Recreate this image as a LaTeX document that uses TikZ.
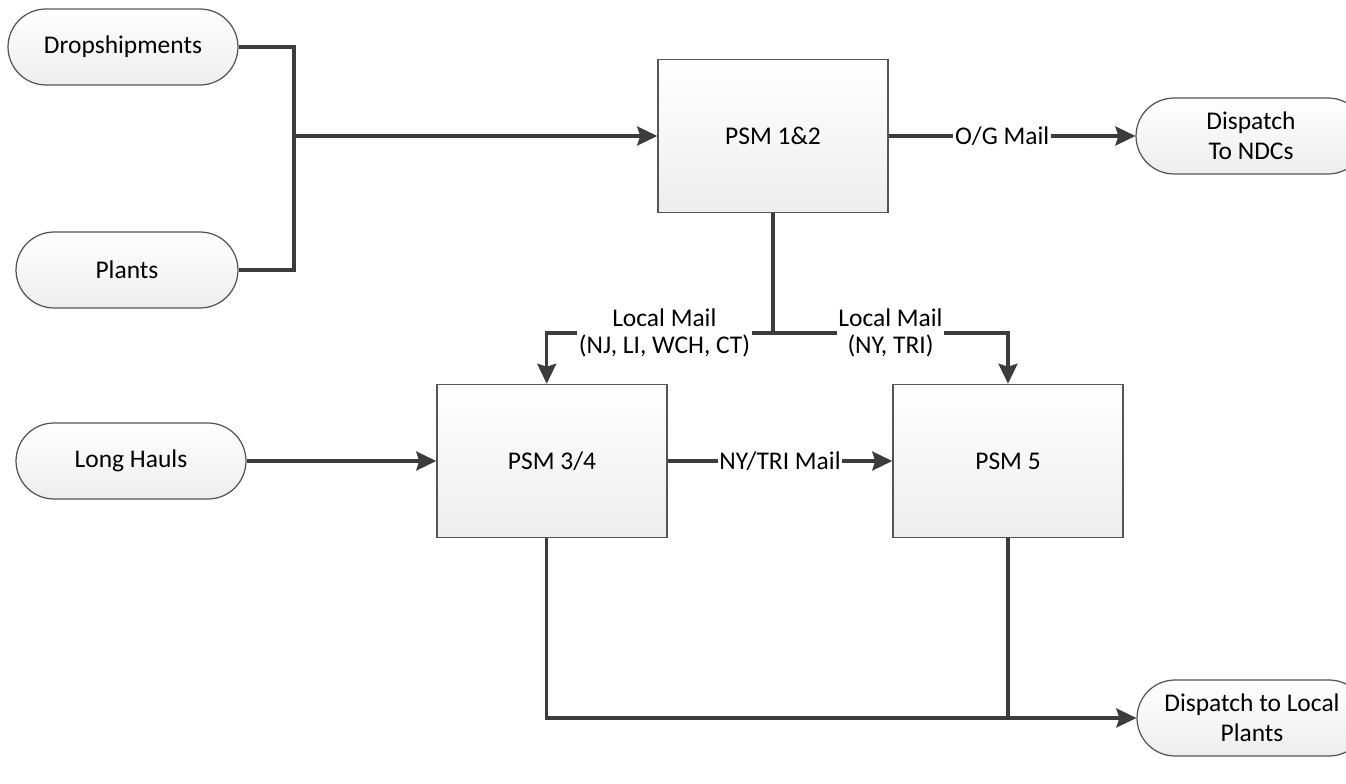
\documentclass[tikz,border=0pt]{standalone}
\usepackage{fontspec}
\setmainfont{Carlito}
\usepackage{tikz}
\usetikzlibrary{arrows.meta, positioning, calc}
\definecolor{linegray}{HTML}{3C3C3C}
\definecolor{edgegray}{HTML}{555555}
\tikzset{
  terminal/.style={rectangle, draw=edgegray, line width=0.7pt, rounded corners=0.76cm,
                   top color=white, bottom color=gray!14, minimum width=4.6cm,
                   minimum height=1.52cm, align=center, font=\fontsize{14.5}{17}\selectfont},
  station/.style={rectangle, draw=edgegray, line width=0.9pt,
                  top color=white, bottom color=gray!14, minimum width=4.6cm,
                  minimum height=3.06cm, align=center, font=\fontsize{14.5}{17}\selectfont},
  flow/.style={draw=linegray, line width=1.8pt},
  arrow/.style={flow, -{Stealth[length=4mm, width=3.8mm, inset=0.6mm]}},
  flowlabel/.style={fill=white, inner sep=1pt, align=center,
                    font=\fontsize{14.5}{15.5}\selectfont},
}
\begin{document}
\begin{tikzpicture}[x=0.02cm, y=-0.02cm]
  \useasboundingbox (0,0) rectangle (1346,784);
  \begin{scope}
  \clip (0,0) rectangle (1346,784);
  % sources
  \node (drop) [terminal, minimum width=4.6cm] at (123,47) {Dropshipments};
  \node (plants) [terminal, minimum width=4.44cm] at (127,270) {Plants};
  \node (haul) [terminal] at (131,461) {Long Hauls};

  % sorting stations
  \node (psm12) [station] at (773,136) {PSM 1\&2};
  \node (psm34) [station] at (552,461) {PSM 3/4};
  \node (psm5) [station] at (1008,461) {PSM 5};

  % dispatch
  \node (ndc) [terminal] at (1251,136) {Dispatch\\To NDCs};
  \node (local) [terminal] at (1252,718) {Dispatch to Local\\Plants};

  \coordinate (merge) at (294,136);
  \coordinate (split) at (773,333);

  \draw[flow] (drop.east) -| (merge);
  \draw[flow] (plants.east) -| (merge);
  \draw[arrow] (merge) -- (psm12.west);
  \draw[arrow] (psm12.east) -- node[flowlabel, pos=0.46] {O/G Mail} (ndc.west);

  \draw[flow] (psm12.south) -- (split);
  \draw[arrow] (split) -| node[flowlabel, pos=0.24] {Local Mail\\(NJ, LI, WCH, CT)} ([xshift=-3]psm34.north);
  \draw[arrow] (split) -| node[flowlabel, pos=0.25] {Local Mail\\(NY, TRI)} (psm5.north);

  \draw[arrow] (haul.east) -- (psm34.west);
  \draw[arrow] (psm34.east) -- node[flowlabel] {NY/TRI Mail} (psm5.west);

  \draw[arrow] ([xshift=-3]psm34.south) |- (local.west);
  \draw[flow] (psm5.south) -- (psm5.south |- local.west);
  \end{scope}
\end{tikzpicture}
\end{document}
